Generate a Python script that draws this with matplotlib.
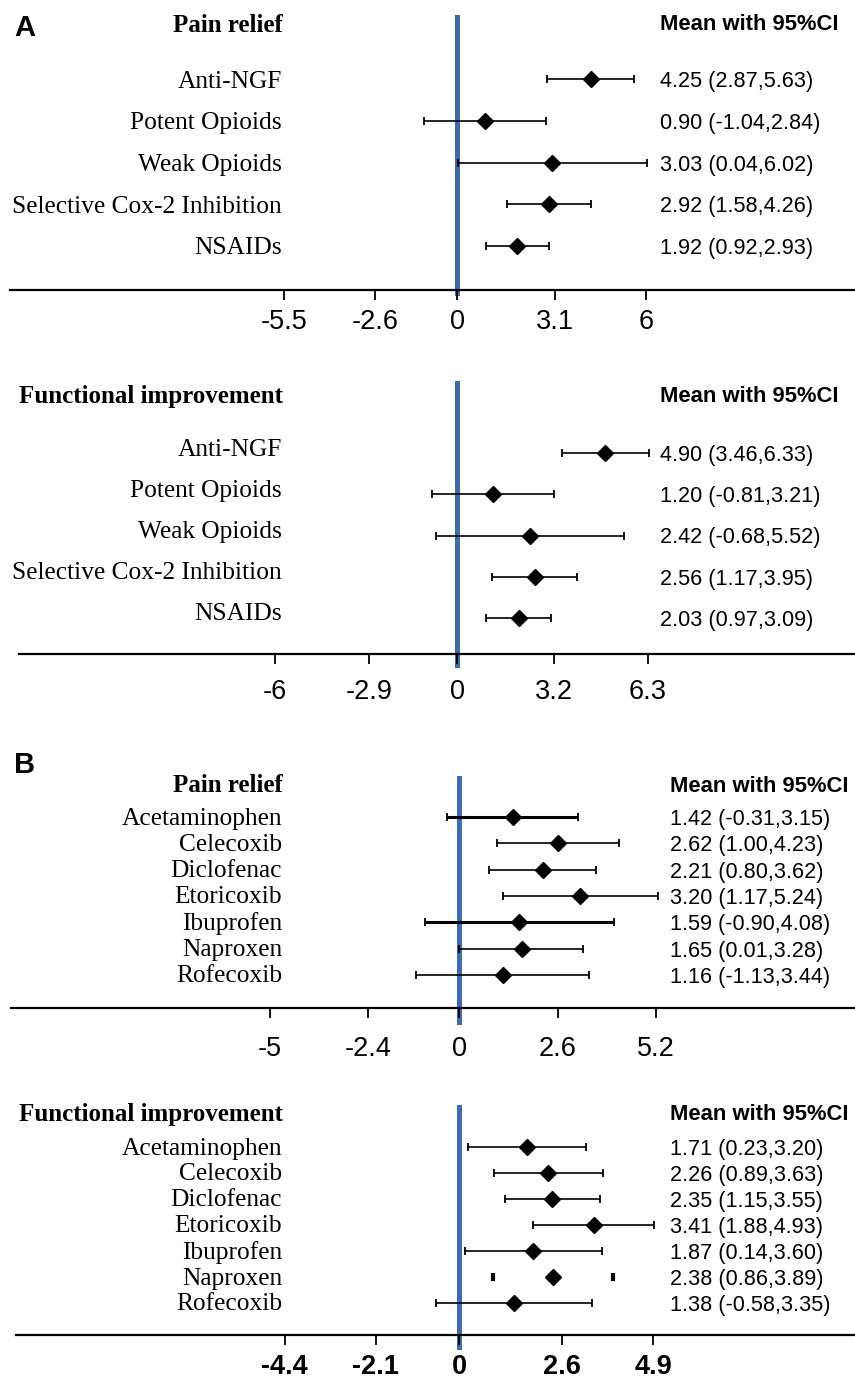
import matplotlib
matplotlib.use("Agg")
import matplotlib.pyplot as plt
from matplotlib.transforms import blended_transform_factory

# ---- data ----
a_drugs = ["Anti-NGF", "Potent Opioids", "Weak Opioids",
           "Selective Cox-2 Inhibition", "NSAIDs"]
a_pain_mean = [4.25, 0.90, 3.03, 2.92, 1.92]
a_pain_lo = [2.87, -1.04, 0.04, 1.58, 0.92]
a_pain_hi = [5.63, 2.84, 6.02, 4.26, 2.93]
a_func_mean = [4.90, 1.20, 2.42, 2.56, 2.03]
a_func_lo = [3.46, -0.81, -0.68, 1.17, 0.97]
a_func_hi = [6.33, 3.21, 5.52, 3.95, 3.09]

b_drugs = ["Acetaminophen", "Celecoxib", "Diclofenac", "Etoricoxib",
           "Ibuprofen", "Naproxen", "Rofecoxib"]
b_pain_mean = [1.42, 2.62, 2.21, 3.20, 1.59, 1.65, 1.16]
b_pain_lo = [-0.31, 1.00, 0.80, 1.17, -0.90, 0.01, -1.13]
b_pain_hi = [3.15, 4.23, 3.62, 5.24, 4.08, 3.28, 3.44]
b_func_mean = [1.71, 2.26, 2.35, 3.41, 1.87, 2.38, 1.38]
b_func_lo = [0.23, 0.89, 1.15, 1.88, 0.14, 0.86, -0.58]
b_func_hi = [3.20, 3.63, 3.55, 4.93, 3.60, 3.89, 3.35]

a_pain_ticks = [-5.5, -2.6, 0, 3.1, 6]
a_func_ticks = [-6, -2.9, 0, 3.2, 6.3]
b_pain_ticks = [-5, -2.4, 0, 2.6, 5.2]
b_func_ticks = [-4.4, -2.1, 0, 2.6, 4.9]

# rows drawn with heavier whiskers / without whiskers in the original
b_pain_heavy = ["Acetaminophen", "Ibuprofen"]
b_func_capsonly = ["Naproxen"]

SERIF = "Liberation Serif"
SANS = "Liberation Sans"
BLUE = "#3d6bb3"

W, H = 855, 1380
fig = plt.figure(figsize=(W / 100, H / 100), dpi=100)

# layout in pixels: left, top, axis, row0, step, zero, scale, title, blue ext, label dy, values x, tick pad
panels = [
    ("Pain relief", a_drugs, a_pain_mean, a_pain_lo, a_pain_hi, a_pain_ticks,
     dict(left=10, top=17, axis=290, row0=79, step=41.75, zero=457, scale=31.5,
          title=25, ext=3, ldy=0, valx=660, pad=7, bold=False)),
    ("Functional improvement", a_drugs, a_func_mean, a_func_lo, a_func_hi, a_func_ticks,
     dict(left=19, top=383, axis=654, row0=453, step=41.25, zero=457, scale=30.3,
          title=397, ext=11, ldy=-6, valx=660, pad=11, bold=False)),
    ("Pain relief", b_drugs, b_pain_mean, b_pain_lo, b_pain_hi, b_pain_ticks,
     dict(left=11, top=778, axis=1008, row0=817, step=26.3, zero=459, scale=37.9,
          title=786, ext=14, ldy=-1, valx=670, pad=13, bold=False)),
    ("Functional improvement", b_drugs, b_func_mean, b_func_lo, b_func_hi, b_func_ticks,
     dict(left=16, top=1107, axis=1335, row0=1147, step=26.0, zero=459, scale=39.6,
          title=1114, ext=12, ldy=-1, valx=670, pad=7, bold=True)),
]

for title, drugs, mean, lo, hi, ticks, L in panels:
    ax = fig.add_axes([L["left"] / W, 1 - L["axis"] / H,
                       (W - L["left"]) / W, (L["axis"] - L["top"]) / H])
    ax.set_xlim((L["left"] - L["zero"]) / L["scale"], (W - L["zero"]) / L["scale"])
    step = L["step"]
    ax.set_ylim((L["axis"] - L["row0"]) / step, (L["top"] - L["row0"]) / step)

    ax.axvline(0, ymin=-L["ext"] / (L["axis"] - L["top"]), ymax=1,
               color=BLUE, lw=3.6, clip_on=False, zorder=1)

    for i, d in enumerate(drugs):
        lw = 1.2
        if title == "Pain relief" and d in b_pain_heavy:
            lw = 2.2
        if title == "Functional improvement" and d in b_func_capsonly:
            ax.errorbar(mean[i], i, xerr=[[mean[i] - lo[i]], [hi[i] - mean[i]]],
                        fmt="D", color="black", ms=7.8, elinewidth=0,
                        capsize=3, capthick=3, zorder=3)
        else:
            ax.errorbar(mean[i], i, xerr=[[mean[i] - lo[i]], [hi[i] - mean[i]]],
                        fmt="D", color="black", ms=7.8, elinewidth=lw,
                        capsize=3, capthick=1.3, zorder=3)

    tr = blended_transform_factory(fig.transFigure, ax.transData)
    ydy = L["ldy"] / step
    ax.text(283 / W, (L["title"] - L["row0"]) / step, title, transform=tr,
            ha="right", va="center", family=SERIF, fontsize=18, fontweight="bold")
    ax.text(L["valx"] / W, (L["title"] - L["row0"]) / step, "Mean with 95%CI",
            transform=tr, ha="left", va="center", family=SANS, fontsize=15.8,
            fontweight="bold")
    for i, d in enumerate(drugs):
        ax.text(282 / W, i + ydy, d, transform=tr, ha="right",
                va="center_baseline", family=SERIF, fontsize=18.3)
        ax.text(L["valx"] / W, i, f"{mean[i]:.2f} ({lo[i]:.2f},{hi[i]:.2f})",
                transform=tr, ha="left", va="center_baseline", family=SANS,
                fontsize=15.6)

    ax.set_xticks(ticks)
    ax.set_xticklabels([f"{t:g}" for t in ticks], family=SANS,
                       fontweight="bold" if L["bold"] else "normal")
    ax.tick_params(axis="x", length=7, width=1.3, labelsize=19.5, pad=L["pad"])
    ax.set_yticks([])
    for s in ["top", "left", "right"]:
        ax.spines[s].set_visible(False)
    ax.spines["bottom"].set_linewidth(1.6)

fig.text(25 / W, 1 - 28 / H, "A", ha="center", va="center", family=SANS,
         fontsize=21, fontweight="bold")
fig.text(25 / W, 1 - 765 / H, "B", ha="center", va="center", family=SANS,
         fontsize=21, fontweight="bold")

fig.savefig("out.png", dpi=100)
